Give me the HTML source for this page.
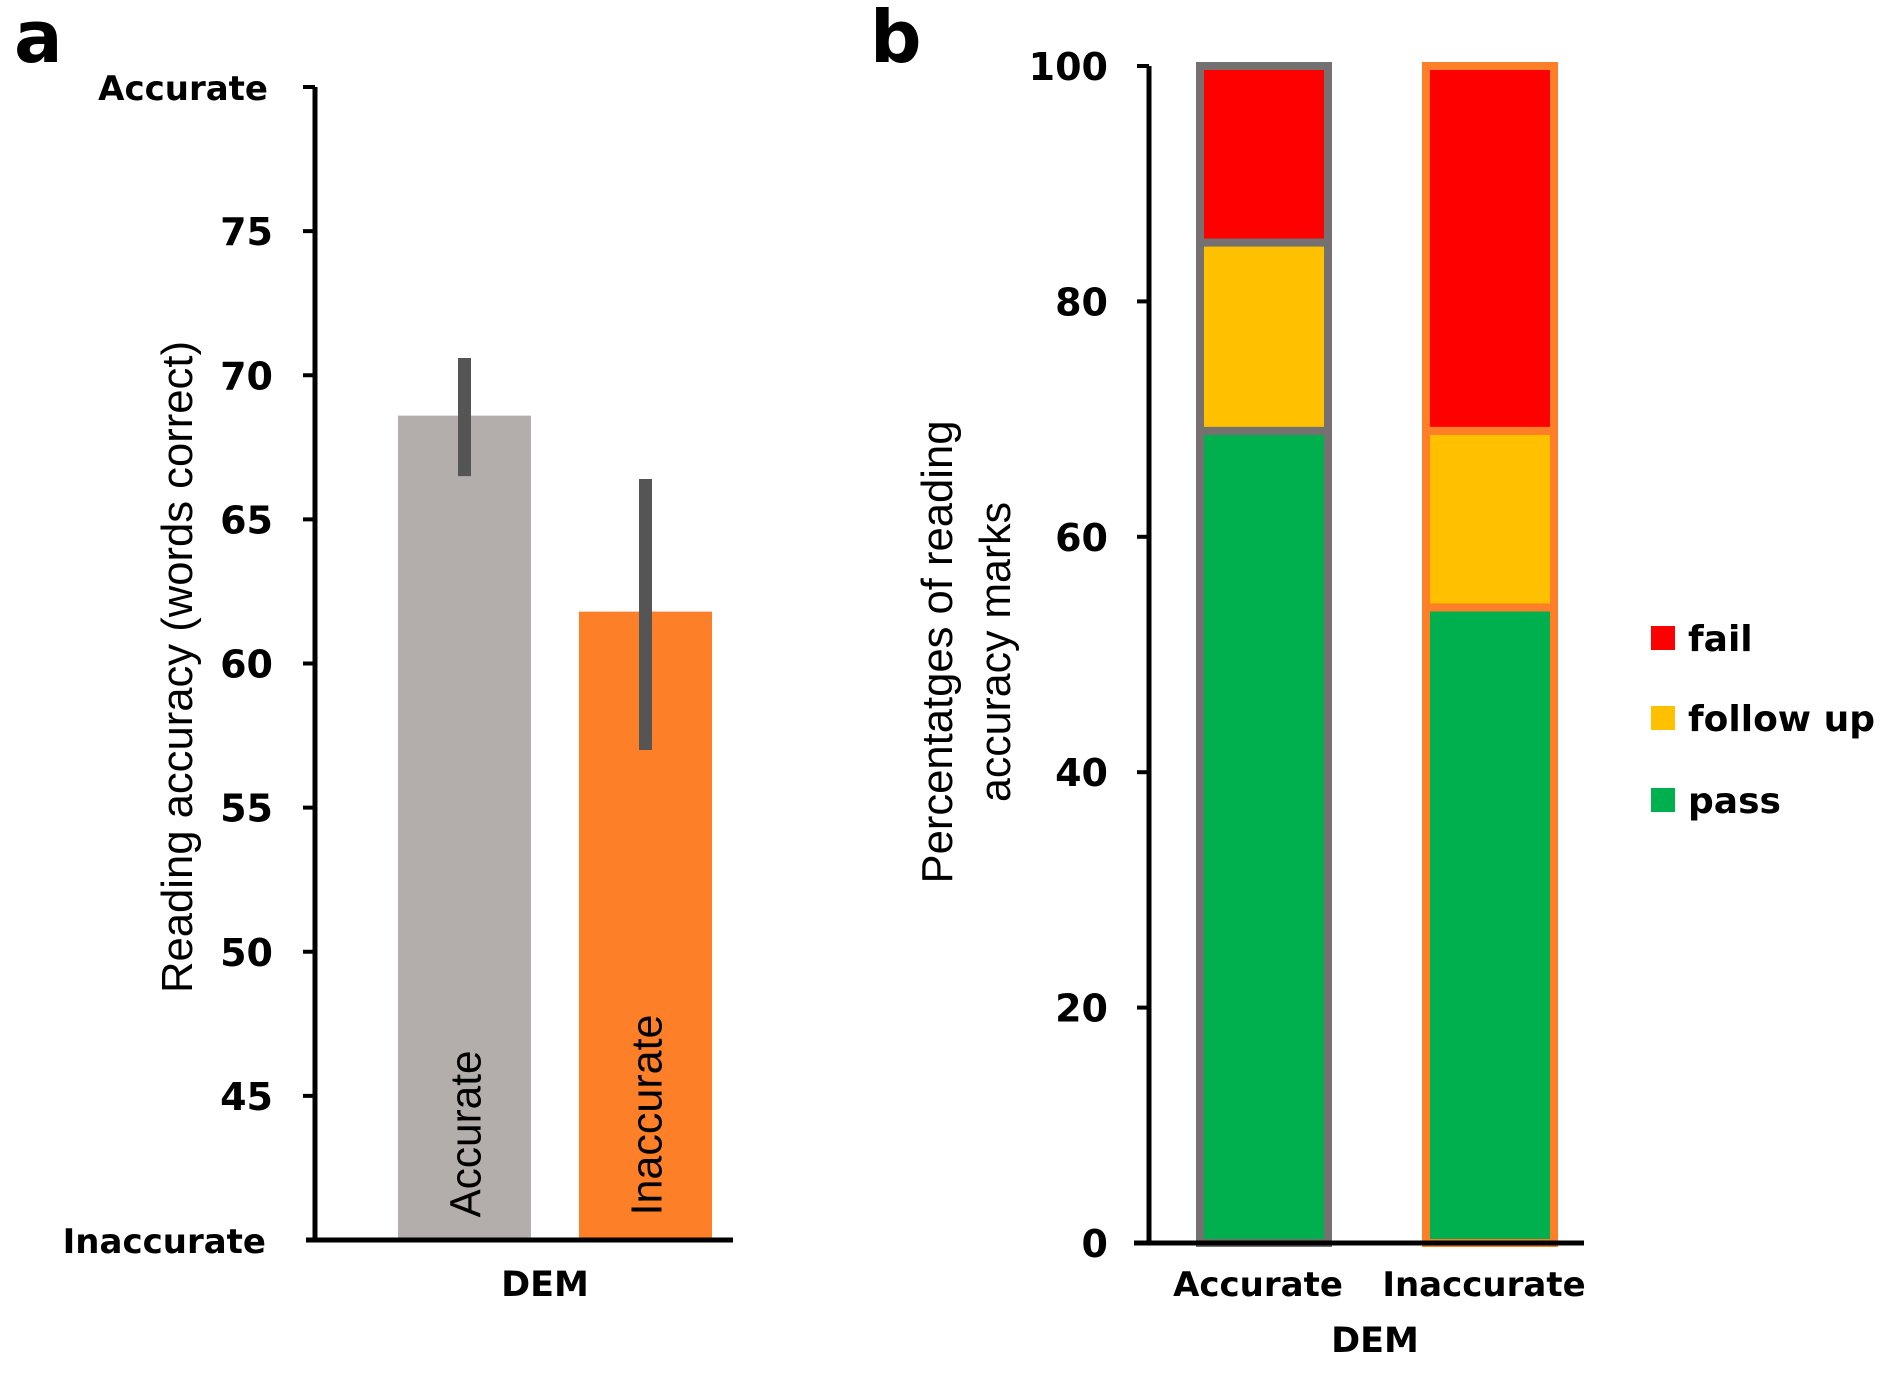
<!DOCTYPE html>
<html><head><meta charset="utf-8"><style>
body{margin:0;background:#fff}
text{font-family:"DejaVu Sans","Liberation Sans",sans-serif}
.b{font-weight:bold}
.n{font-family:"Liberation Sans",sans-serif}
</style></head><body>
<svg id="chart" width="1887" height="1372" viewBox="0 0 1887 1372" xmlns="http://www.w3.org/2000/svg">
<g id="pa"></g>
<g id="pb"></g>
</svg>
<script>
const aCats=["Accurate","Inaccurate"];
const aMeans=[68.6,61.8];
const aErrLo=[66.5,57.0];
const aErrHi=[70.6,66.4];
const aTicks=[45,50,55,60,65,70,75];
const bCats=["Accurate","Inaccurate"];
const bPass=[69,54];
const bFollow=[16,15];
const bFail=[15,31];
const bTicks=[0,20,40,60,80,100];
const NS="http://www.w3.org/2000/svg";
function mk(p,t,a,txt){const e=document.createElementNS(NS,t);for(const k in a)e.setAttribute(k,a[k]);if(txt!==undefined)e.textContent=txt;p.appendChild(e);return e;}
// Panel a
const pa=document.getElementById('pa');
const yA=v=>1240-(v-40)*(1240-87)/40;
let t=mk(pa,'text',{x:14,y:62,'font-size':72,class:'b'},'a');


const aX=[398,579],aW=133,aCol=["#b3aeab","#fd7f27"];
const lblLen=[167,201],lblCy=[1134,1115];
aMeans.forEach((m,i)=>{
 let r=mk(pa,'rect',{x:aX[i],y:yA(m),width:aW,height:1240-yA(m),fill:aCol[i]});
 
 
 let e=mk(pa,'line',{x1:aX[i]+aW/2,x2:aX[i]+aW/2,y1:yA(aErrLo[i]),y2:yA(aErrHi[i]),stroke:'#555',"stroke-width":13});
 
 
 const cx=aX[i]+aW/2+16,cy=lblCy[i];
 let l=mk(pa,'text',{x:cx,y:cy,'font-size':44,class:'n','text-anchor':'middle',textLength:lblLen[i],lengthAdjust:'spacingAndGlyphs',transform:`rotate(-90 ${cx} ${cy})`},aCats[i]);
 
 
});
let ax=mk(pa,'line',{x1:315,x2:315,y1:87,y2:1242,stroke:'#000','stroke-width':5});


let xx=mk(pa,'line',{x1:306,x2:733,y1:1240,y2:1240,stroke:'#000','stroke-width':5});


aTicks.concat([80]).forEach(v=>{
 let k=mk(pa,'line',{x1:303,x2:315,y1:yA(v),y2:yA(v),stroke:'#000','stroke-width':4});
 
 
});
aTicks.forEach(v=>{
 let l=mk(pa,'text',{x:273,y:yA(v)+14,'font-size':38,class:'b','text-anchor':'end'},String(v));
 
 
});
t=mk(pa,'text',{x:268,y:100,'font-size':34,class:'b','text-anchor':'end'},'Accurate');


t=mk(pa,'text',{x:266,y:1253,'font-size':34,class:'b','text-anchor':'end'},'Inaccurate');


t=mk(pa,'text',{x:192,y:667,'font-size':44,class:'n','text-anchor':'middle',textLength:652,lengthAdjust:'spacingAndGlyphs',transform:'rotate(-90 192 667)'},'Reading accuracy (words correct)');


t=mk(pa,'text',{x:545,y:1296,'font-size':35,class:'b','text-anchor':'middle'},'DEM');


// Panel b
const pb=document.getElementById('pb');
const yB=v=>1243-v*(1243-66)/100;
t=mk(pb,'text',{x:870,y:62,'font-size':72,class:'b'},'b');


const bX=[1200,1426],bW=128,bBorder=["#767171","#fd7f27"];
const segCol=["#00b04f","#ffc000","#ff0000"],segName=["pass","follow-up","fail"];
bCats.forEach((c,i)=>{
 const vals=[bPass[i],bFollow[i],bFail[i]];let base=0;
 vals.forEach((v,j)=>{
  let r=mk(pb,'rect',{x:bX[i],y:yB(base+v),width:bW,height:yB(base)-yB(base+v),fill:segCol[j],stroke:bBorder[i],'stroke-width':8});
  
  
  base+=v;
 });
 let l=mk(pb,'text',{x:bX[i]+bW/2-6,y:1296,'font-size':34,class:'b','text-anchor':'middle'},c);
 
 
});
ax=mk(pb,'line',{x1:1149,x2:1149,y1:66,y2:1245,stroke:'#000','stroke-width':5});


xx=mk(pb,'line',{x1:1134,x2:1584,y1:1243,y2:1243,stroke:'#000','stroke-width':5});


bTicks.forEach(v=>{
 let k=mk(pb,'line',{x1:1137,x2:1149,y1:yB(v),y2:yB(v),stroke:'#000','stroke-width':4});
 
 
 let l=mk(pb,'text',{x:1108,y:yB(v)+14,'font-size':38,class:'b','text-anchor':'end'},String(v));
 
 
});
t=mk(pb,'text',{x:952,y:652,'font-size':44,class:'n','text-anchor':'middle',textLength:463,lengthAdjust:'spacingAndGlyphs',transform:'rotate(-90 952 652)'},'Percentatges of reading');


t=mk(pb,'text',{x:1010,y:652,'font-size':44,class:'n','text-anchor':'middle',textLength:300,lengthAdjust:'spacingAndGlyphs',transform:'rotate(-90 1010 652)'},'accuracy marks');


t=mk(pb,'text',{x:1375,y:1352,'font-size':35,class:'b','text-anchor':'middle'},'DEM');


const legY=[638,718,800],legOrder=[2,1,0],legTxt=["fail","follow up","pass"];
legOrder.forEach((j,k)=>{
 let s=mk(pb,'rect',{x:1651,y:legY[k]-12,width:24,height:24,fill:segCol[j]});
 
 
 let l=mk(pb,'text',{x:1688,y:legY[k]+13,'font-size':36,class:'b'},legTxt[k]);
 
 
});
</script>
</body></html>
